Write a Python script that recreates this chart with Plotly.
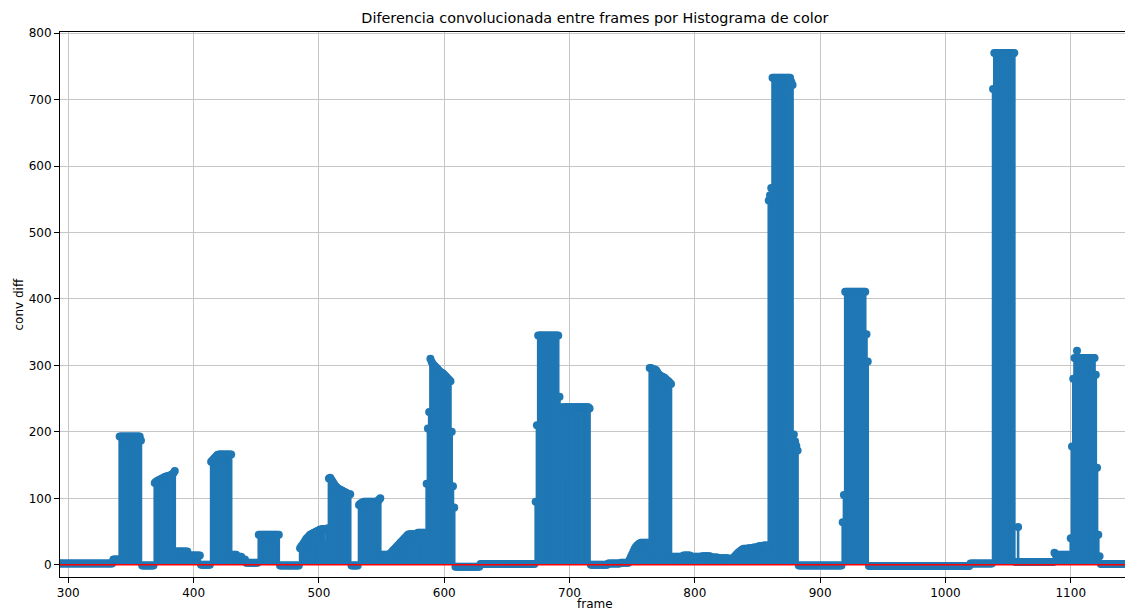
import plotly.graph_objects as go

# Per-frame convolved colour-histogram difference, stored as runs:
# each run starts at run_start[i] and holds run_value[i] until the next run.
run_start = [
    290, 336, 341, 358, 359, 369, 370, 371, 372, 373, 374, 375, 376, 377, 378, 380,
    382, 383, 384, 385, 386, 396, 406, 414, 415, 416, 417, 418, 419, 420, 431, 435,
    439, 442, 452, 469, 485, 486, 487, 488, 489, 490, 491, 492, 493, 494, 495, 496,
    497, 498, 499, 500, 501, 503, 505, 506, 507, 508, 509, 510, 511, 512, 513, 514,
    515, 516, 517, 518, 519, 520, 521, 522, 523, 524, 526, 532, 533, 534, 535, 536,
    547, 548, 549, 550, 557, 558, 559, 560, 561, 562, 563, 564, 565, 566, 567, 568,
    569, 570, 571, 572, 579, 586, 587, 588, 589, 590, 591, 592, 593, 594, 595, 596,
    597, 598, 599, 600, 601, 602, 603, 604, 605, 606, 607, 608, 609, 629, 673, 674,
    675, 692, 693, 694, 695, 716, 717, 731, 741, 748, 749, 750, 751, 752, 753, 754,
    755, 756, 757, 764, 766, 767, 769, 770, 771, 772, 773, 774, 775, 776, 777, 778,
    779, 780, 781, 782, 791, 797, 806, 813, 819, 827, 831, 832, 833, 834, 835, 836,
    837, 838, 839, 843, 847, 851, 855, 859, 860, 861, 862, 877, 878, 879, 880, 881,
    882, 883, 918, 919, 920, 937, 938, 939, 1020, 1038, 1039, 1056, 1058, 1059, 1087, 1088,
    1100, 1101, 1102, 1103, 1105, 1106, 1120, 1121, 1122, 1123, 1124,
]
run_value = [
    2, 8, 193, 187, -1, 123, 125, 126, 127, 128, 129, 130, 131, 132, 133, 134,
    135, 136, 138, 141, 20, 14, 0, 155, 157, 159, 161, 163, 165, 166, 15, 12,
    8, 3, 45, -1, 25, 28, 30, 33, 36, 39, 41, 43, 45, 46, 47, 48,
    49, 50, 51, 52, 53, 54, 30, 52, 55, 130, 131, 128, 125, 122, 119, 117,
    115, 114, 113, 112, 111, 110, 109, 108, 107, 106, -1, 90, 92, 93, 94, 95,
    96, 98, 100, 15, 17, 19, 21, 23, 25, 27, 29, 31, 33, 35, 37, 39,
    41, 43, 45, 46, 48, 122, 205, 230, 310, 305, 302, 300, 298, 296, 294, 292,
    290, 289, 288, 286, 284, 282, 280, 278, 276, 200, 118, 86, -3, 1, 95, 210,
    345, 253, 237, 140, 237, 235, 0, 2, 3, 8, 12, 16, 20, 24, 27, 29,
    31, 32, 33, 296, 295, 294, 293, 290, 287, 285, 284, 283, 282, 281, 279, 277,
    276, 274, 272, 12, 14, 12, 13, 11, 10, 9, 11, 13, 15, 17, 19, 20,
    22, 23, 24, 25, 26, 28, 29, 548, 556, 567, 733, 727, 722, 196, 186, 179,
    172, -1, 64, 105, 411, 347, 306, -2, 2, 716, 770, 4, 57, 4, 18, 15,
    40, 178, 280, 311, 322, 311, 286, 146, 45, 13, 1,
]
last_frame = 1150

x_ticks = [300, 400, 500, 600, 700, 800, 900, 1000, 1100]
y_ticks = [0, 100, 200, 300, 400, 500, 600, 700, 800]

BLUE = "#1f77b4"
RED = "#ff0000"
FONT = "DejaVu Sans"

# expand the runs into one value per frame
frames, diffs = [], []
for i, start in enumerate(run_start):
    stop = run_start[i + 1] if i + 1 < len(run_start) else last_frame + 1
    for f in range(start, stop):
        frames.append(f)
        diffs.append(run_value[i])

# stem segments from the baseline up to each value
stem_x, stem_y = [], []
for f, v in zip(frames, diffs):
    stem_x += [f, f, None]
    stem_y += [0, v, None]

fig = go.Figure()
fig.add_trace(go.Scatter(
    x=stem_x, y=stem_y, mode="lines",
    line=dict(color=BLUE, width=2.6), hoverinfo="skip", showlegend=False,
))
fig.add_trace(go.Scatter(
    x=frames, y=diffs, mode="markers",
    marker=dict(color=BLUE, size=8, line=dict(width=0)), showlegend=False,
))
fig.add_trace(go.Scatter(
    x=[frames[0], frames[-1]], y=[0, 0], mode="lines",
    line=dict(color=RED, width=1.5), hoverinfo="skip", showlegend=False,
))

axis_common = dict(
    showgrid=True, gridcolor="#c6c6c6", gridwidth=1,
    showline=True, linecolor="black", linewidth=1,
    ticks="outside", ticklen=5, tickwidth=1, tickcolor="black",
    tickfont=dict(family=FONT, size=12, color="black"),
    zeroline=False,
)

fig.update_layout(
    width=1125, height=612,
    margin=dict(l=60, r=0, t=32, b=35),
    paper_bgcolor="white", plot_bgcolor="white",
    font=dict(family=FONT, color="black"),
    title=dict(
        text="Diferencia convolucionada entre frames por Histograma de color",
        font=dict(family=FONT, size=14.4, color="black"),
        xref="paper", x=0.5023, xanchor="center",
        yref="container", y=1 - 18 / 612, yanchor="middle",
    ),
    xaxis=dict(range=[293.4, 1143.3], tickvals=x_ticks, mirror=True, **axis_common),
    yaxis=dict(range=[-18.4, 801.7], tickvals=y_ticks, **axis_common),
    annotations=[
        dict(text="frame", xref="paper", yref="paper", x=0.5023, y=(577 - 604) / 545,
             xanchor="center", yanchor="middle", showarrow=False,
             font=dict(family=FONT, size=12, color="black")),
        dict(text="conv diff", xref="paper", yref="paper", x=(18 - 60) / 1065, y=0.5,
             xanchor="center", yanchor="middle", textangle=-90, showarrow=False,
             font=dict(family=FONT, size=12, color="black")),
    ],
)

fig.write_html("out.html")
